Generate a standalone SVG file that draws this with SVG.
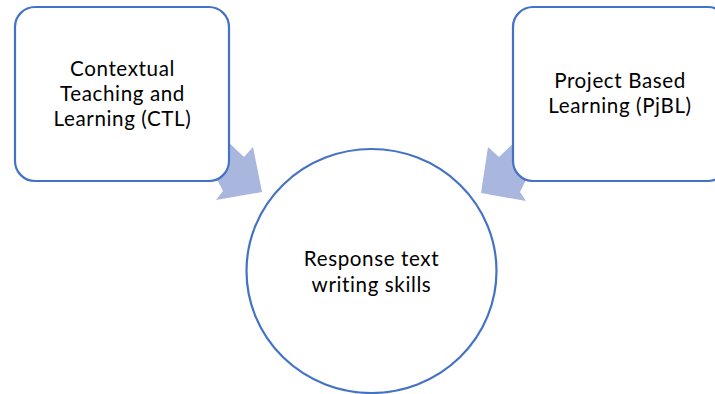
<svg xmlns="http://www.w3.org/2000/svg" width="715" height="394" viewBox="0 0 715 394">
<style>
.node{fill:#ffffff;stroke:#4472c4;stroke-width:2.2}
.arrow{fill:#a9b7df;stroke:none}
text{font-family:Lato,"Open Sans","Liberation Sans",sans-serif;font-size:20.6px;letter-spacing:0.6px;fill:#000000;text-anchor:middle}
</style>
<rect width="715" height="394" fill="#ffffff"/>
<g id="connectors">
<polygon class="arrow" points="222,136 244,157 253,147 262,192 216,200 223,191 210,166"/>
<polygon class="arrow" points="521,136 499,157 488,147 481,193 526,201 520,192 533,166"/>
</g>
<g id="node-ctl">
<rect class="node" x="15" y="7" width="214" height="174" rx="20" ry="20"/>
<text x="122.5" y="76">Contextual</text>
<text x="122.5" y="101">Teaching and</text>
<text x="122.5" y="126">Learning (CTL)</text>
</g>
<g id="node-pjbl">
<rect class="node" x="513" y="7" width="215" height="174" rx="20" ry="20"/>
<text x="620" y="88">Project Based</text>
<text x="620" y="113">Learning (PjBL)</text>
</g>
<g id="node-response">
<ellipse class="node" cx="371.5" cy="271" rx="125" ry="122"/>
<text x="371.5" y="266">Response text</text>
<text x="371.5" y="292">writing skills</text>
</g>
</svg>
